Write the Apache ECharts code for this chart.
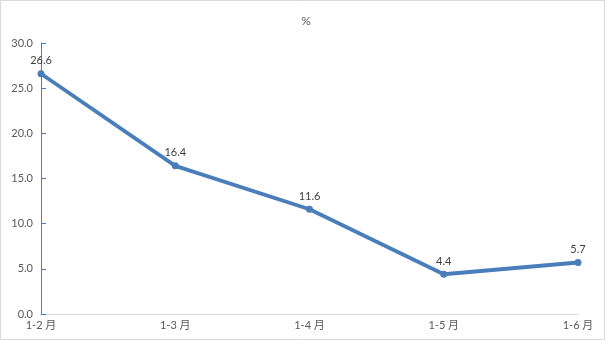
<!DOCTYPE html>
<html><head><meta charset="utf-8">
<script src="https://cdn.jsdelivr.net/npm/echarts@6/dist/echarts.min.js"></script>
<style>html,body{margin:0;padding:0;background:#fff}#c{width:605px;height:340px}</style>
</head><body><div id="c"></div>
<script>
const categories = ['1-2 月', '1-3 月', '1-4 月', '1-5 月', '1-6 月'];
const values = [26.6, 16.4, 11.6, 4.4, 5.7];
const titleText = '%';
const yTicks = [0, 5, 10, 15, 20, 25, 30];

const chart = echarts.init(document.getElementById('c'), null, {renderer: 'canvas'});
const font = 'Lato, "Noto Sans CJK SC", sans-serif';
chart.setOption({
  animation: false,
  title: {text: titleText, left: 301, top: 10, textAlign: 'center',
    textStyle: {fontSize: 12, fontWeight: 'normal', color: '#595959', fontFamily: font}},
  graphic: [{type: 'rect', shape: {x: 0.5, y: 0.5, width: 604, height: 339},
    style: {fill: 'none', stroke: '#d9d9d9', lineWidth: 1}, silent: true}],
  grid: {left: 41, right: 27, top: 43, bottom: 26, containLabel: false},
  xAxis: {type: 'category', data: categories, boundaryGap: false,
    axisLine: {lineStyle: {color: '#d9d9d9', width: 1}},
    axisTick: {show: false},
    axisLabel: {color: '#595959', fontSize: 11, fontFamily: font, margin: 6}},
  yAxis: {type: 'value', min: yTicks[0], max: yTicks[yTicks.length - 1], interval: 5,
    axisLine: {show: true, lineStyle: {color: '#4a7ebb', width: 1}},
    axisTick: {show: true, inside: true, length: 5, lineStyle: {color: '#4a7ebb'}},
    splitLine: {show: false},
    axisLabel: {color: '#595959', fontSize: 11, fontFamily: font, margin: 8,
      formatter: v => v.toFixed(1)}},
  series: [{type: 'line', data: values, symbol: 'circle', symbolSize: 7,
    lineStyle: {color: '#4a7ebb', width: 3.8},
    itemStyle: {color: '#4a7ebb'},
    label: {show: true, position: 'top', distance: 4, color: '#404040', fontSize: 11, fontFamily: font,
      formatter: p => p.value.toFixed(1)}}]
});
</script></body></html>
